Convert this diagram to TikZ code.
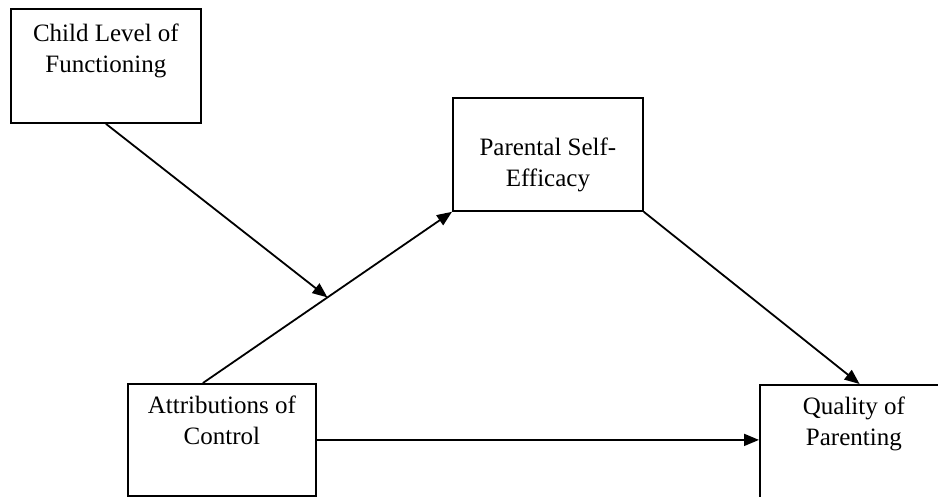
\documentclass[tikz,border=0pt]{standalone}
\usepackage{fontspec}
\setmainfont{Liberation Serif}
\usetikzlibrary{positioning, arrows.meta, calc}
\tikzset{
  bx/.style={draw=black, line width=1.8pt, fill=white, align=center,
    inner xsep=0pt, inner ysep=0pt, minimum width=190pt,
    text height=61pt, text depth=52pt, anchor=north west,
    font=\fontsize{25}{31}\selectfont},
  flow/.style={-{Triangle[length=15pt, width=12pt]}, line width=1.8pt},
}

\begin{document}
\begin{tikzpicture}[x=1pt, y=-1pt]
  \useasboundingbox (0,0) rectangle (938,496);
  \node[bx, text height=64pt, text depth=50pt] (child) at (10,8) {Child Level of\\Functioning};
  \node[bx, text height=89pt, text depth=24pt] (pse) at (452,97) {Parental Self-\\Efficacy};
  \node[bx, minimum width=188pt, text depth=51pt] (attr) at (127,383) {Attributions of\\Control};
  \node[bx, minimum width=188pt] (qual) at (759,384) {Quality of\\Parenting};
  % connector end points
  \coordinate (attrtop) at ($(attr.north west)!0.4!(attr.north east)$);
  \coordinate (mid) at ($(attrtop)!0.5!(pse.south west)$);
  \coordinate (qualtop) at ($(qual.north west)!0.53!(qual.north east)$);
  \draw[flow] (attrtop) -- (pse.south west);
  \draw[flow] (child.south) -- (mid);
  \draw[flow] (pse.south east) -- (qualtop);
  \draw[flow] (attr.east) -- (attr.east -| qual.west);
\end{tikzpicture}
\end{document}
